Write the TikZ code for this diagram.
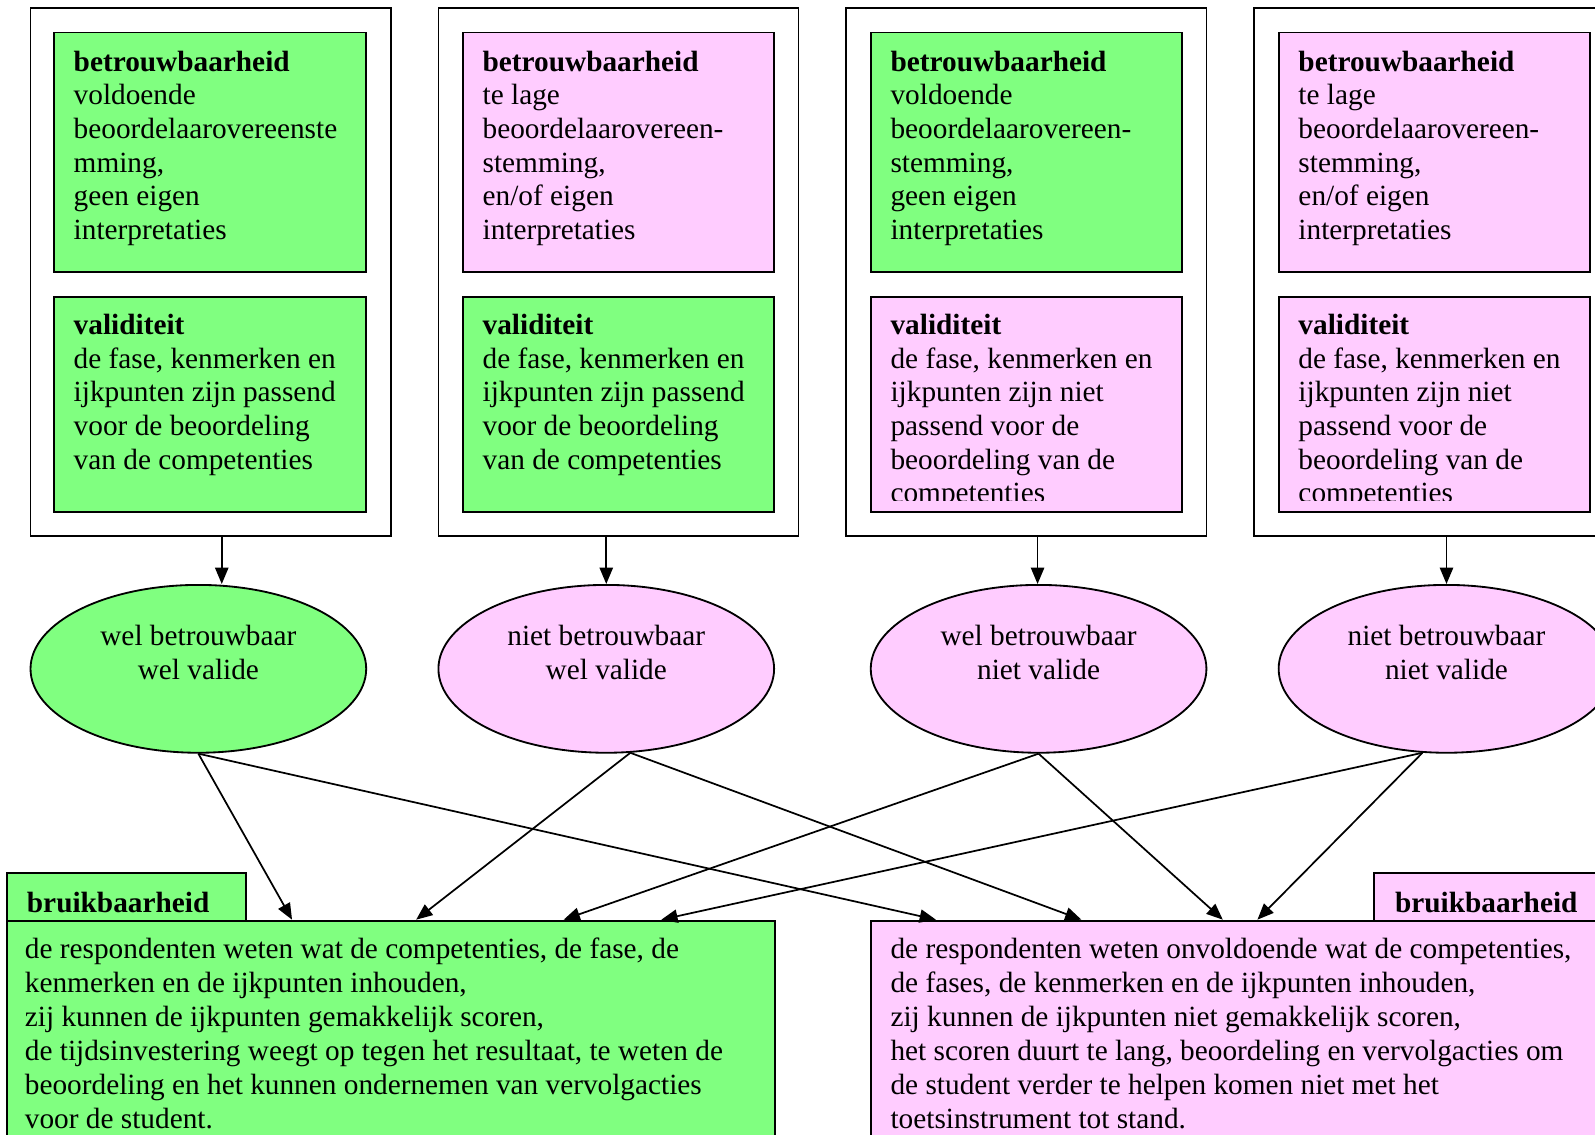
\documentclass[tikz,border=0pt]{standalone}
\usepackage{fontspec}
\setmainfont{Liberation Serif}
\usetikzlibrary{arrows.meta,fit,calc,shapes.geometric}
\definecolor{gr}{RGB}{128,255,128}
\definecolor{pk}{RGB}{255,204,255}
\begin{document}
\begin{tikzpicture}[x=0.5pt,y=-0.5pt,
  frame/.style={draw, line width=0.9pt, rectangle, inner sep=0pt},
  outerbox/.style={frame, fill=white},
  ell/.style={draw, line width=0.9pt, ellipse, inner sep=0pt, minimum width=165pt, minimum height=82.5pt},
  txt/.style={anchor=base west, inner sep=0pt, align=left, font=\fontsize{14.4pt}{16.5pt}\selectfont},
  btxt/.style={anchor=base west, inner sep=0pt, align=left, font=\fontsize{14.4pt}{16.7pt}\selectfont},
  etxt/.style={anchor=base, inner sep=0pt, align=center, font=\fontsize{14.4pt}{16.5pt}\selectfont},
  arr/.style={line width=0.85pt, -{Triangle[length=8pt,width=6.5pt]}}]
\clip (0,0) rectangle (1568,1115);
\fill[white] (0,0) rectangle (1568,1115);

% top outer boxes
\node[outerbox, fit={(30,8)(384,527)}] (o1) {};
\node[outerbox, fit={(431,8)(785,527)}] (o2) {};
\node[outerbox, fit={(832,8)(1186,527)}] (o3) {};
\node[outerbox, fit={(1233,8)(1587,527)}] (o4) {};

% inner boxes
\node[frame, fill=gr, fit={(53,32)(360,267)}] (t1) {};
\node[frame, fill=gr, fit={(53,292)(360,503)}] (v1) {};
\node[frame, fill=pk, fit={(455,32)(761,267)}] (t2) {};
\node[frame, fill=gr, fit={(455,292)(761,503)}] (v2) {};
\node[frame, fill=gr, fit={(856,32)(1162,267)}] (t3) {};
\node[frame, fill=pk, fit={(856,292)(1162,503)}] (v3) {};
\node[frame, fill=pk, fit={(1257,32)(1563,267)}] (t4) {};
\node[frame, fill=pk, fit={(1257,292)(1563,503)}] (v4) {};

% (anchor base = baseline of the last line)
\node[txt] (t1x) at ($(t1.north west)+(20,204)$) {\textbf{betrouwbaarheid}\\voldoende\\beoordelaarovereenste\\mming,\\geen eigen\\interpretaties};
\node[txt] (t2x) at ($(t2.north west)+(20,204)$) {\textbf{betrouwbaarheid}\\te lage\\beoordelaarovereen-\\stemming,\\en/of eigen\\interpretaties};
\node[txt] (t3x) at ($(t3.north west)+(20,204)$) {\textbf{betrouwbaarheid}\\voldoende\\beoordelaarovereen-\\stemming,\\geen eigen\\interpretaties};
\node[txt] (t4x) at ($(t4.north west)+(20,204)$) {\textbf{betrouwbaarheid}\\te lage\\beoordelaarovereen-\\stemming,\\en/of eigen\\interpretaties};

\node[txt] (v1x) at ($(v1.north west)+(20,170)$) {\textbf{validiteit}\\de fase, kenmerken en\\ijkpunten zijn passend\\voor de beoordeling\\van de competenties};
\node[txt] (v2x) at ($(v2.north west)+(20,170)$) {\textbf{validiteit}\\de fase, kenmerken en\\ijkpunten zijn passend\\voor de beoordeling\\van de competenties};
\begin{scope}
\clip (v3.north west) rectangle ($(v3.south east)+(0,-12)$);
\node[txt] (v3x) at ($(v3.north west)+(20,203)$) {\textbf{validiteit}\\de fase, kenmerken en\\ijkpunten zijn niet\\passend voor de\\beoordeling van de\\competenties};
\end{scope}
\begin{scope}
\clip (v4.north west) rectangle ($(v4.south east)+(0,-12)$);
\node[txt] (v4x) at ($(v4.north west)+(20,203)$) {\textbf{validiteit}\\de fase, kenmerken en\\ijkpunten zijn niet\\passend voor de\\beoordeling van de\\competenties};
\end{scope}

% ellipses
\node[ell, fill=gr] (e1) at (195,657.5) {};
\node[ell, fill=pk] (e2) at (596,657.5) {};
\node[ell, fill=pk] (e3) at (1021,657.5) {};
\node[ell, fill=pk] (e4) at (1422,657.5) {};
\node[etxt] (e1x) at ($(e1.center)+(0,10)$) {wel betrouwbaar\\wel valide};
\node[etxt] (e2x) at ($(e2.center)+(0,10)$) {niet betrouwbaar\\wel valide};
\node[etxt] (e3x) at ($(e3.center)+(0,10)$) {wel betrouwbaar\\niet valide};
\node[etxt] (e4x) at ($(e4.center)+(0,10)$) {niet betrouwbaar\\niet valide};

% arrows box -> ellipse
\coordinate (a1) at ($(o1.south)+(11,0)$);
\coordinate (a2) at ($(o2.south)+(-12,0)$);
\coordinate (a3) at ($(o3.south)+(11,0)$);
\coordinate (a4) at ($(o4.south)+(12,0)$);
\draw[arr] (a1) -- (a1 |- e1.north);
\draw[arr] (a2) -- (a2 |- e2.north);
\draw[arr] (a3) -- (a3 |- e3.north);
\draw[arr] (a4) -- (a4 |- e4.north);

% bottom tabs
\node[frame, fill=gr, fit={(7,858)(242,905)}] (tab1) {};
\node[frame, fill=pk, fit={(1351,858)(1600,905)}] (tab2) {};
\begin{scope}
\clip (tab1.north west) rectangle ($(tab1.south east)+(0,-9)$);
\node[txt] (tab1x) at ($(tab1.north west)+(20,40)$) {\textbf{bruikbaarheid}};
\end{scope}
\begin{scope}
\clip (tab2.north west) rectangle ($(tab2.south east)+(0,-9)$);
\node[txt] (tab2x) at ($(tab2.north west)+(21,40)$) {\textbf{bruikbaarheid}};
\end{scope}

% bottom boxes
\node[frame, fill=gr, fit={(7,905)(762,1130)}] (b1) {};
\node[frame, fill=pk, fit={(856,905)(1600,1130)}] (b2) {};
\node[btxt] (b1x) at ($(b1.north west)+(18,205)$) {de respondenten weten wat de competenties, de fase, de\\kenmerken en de ijkpunten inhouden,\\zij kunnen de ijkpunten gemakkelijk scoren,\\de tijdsinvestering weegt op tegen het resultaat, te weten de\\beoordeling en het kunnen ondernemen van vervolgacties\\voor de student.};
\node[btxt] (b2x) at ($(b2.north west)+(20,205)$) {de respondenten weten onvoldoende wat de competenties,\\de fases, de kenmerken en de ijkpunten inhouden,\\zij kunnen de ijkpunten niet gemakkelijk scoren,\\het scoren duurt te lang, beoordeling en vervolgacties om\\de student verder te helpen komen niet met het\\toetsinstrument tot stand.};

% connectors ellipse -> bottom boxes
\draw[arr] (e1.south) -- ($(b1.north west)+(281,0)$);
\draw[arr] (e1.south) -- ($(b2.north west)+(65,0)$);
\draw[arr] (e2.286) -- ($(b1.north west)+(403,0)$);
\draw[arr] (e2.286) -- ($(b2.north west)+(208,0)$);
\draw[arr] (e3.south) -- ($(b1.north west)+(548,0)$);
\draw[arr] (e3.south) -- ($(b2.north west)+(347,0)$);
\draw[arr] (e4.254) -- ($(b1.north west)+(644,0)$);
\draw[arr] (e4.254) -- ($(b2.north west)+(381,0)$);
\end{tikzpicture}
\end{document}
